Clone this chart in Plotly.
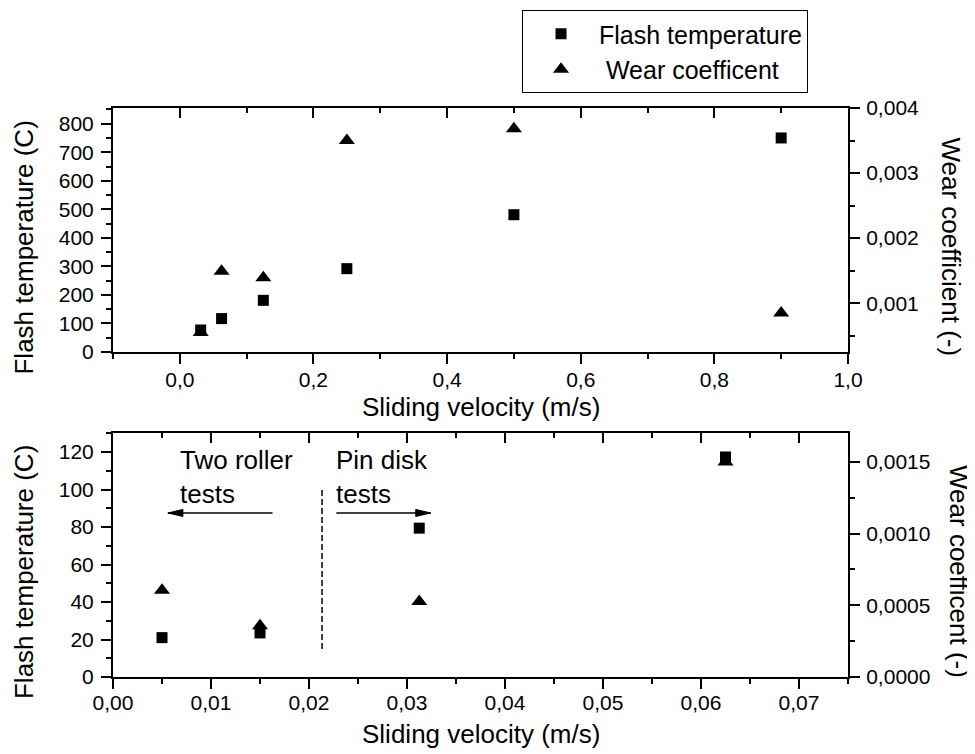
import plotly.graph_objects as go

# ---------------- data ----------------
top_velocity = [0.03125, 0.0625, 0.125, 0.25, 0.5, 0.9]
top_flash = [77, 117, 181, 292, 481, 750]
top_wear = [0.00055, 0.00149, 0.00139, 0.0035, 0.00368, 0.00085]

bot_velocity = [0.005, 0.015, 0.03125, 0.0625]
bot_flash = [21, 23.5, 79.4, 117.4]
bot_wear = [0.000605, 0.000358, 0.000527, 0.0015]

legend_names = ["Flash temperature", "\u00a0Wear coefficent"]
x_title = "Sliding velocity (m/s)"
y_title = "Flash temperature (C)"
y2_title_top = "Wear coefficient (-)"
y2_title_bot = "Wear coefficent (-)"

# annotation positions (data units of the lower panel)
divider_x = 0.02133
divider_y = [15, 100]
arrow_y = 87.5
left_arrow = [0.01628, 0.0056]   # tail, tip
right_arrow = [0.02279, 0.03242]  # tail, tip

FONT = "Liberation Sans, Arial, sans-serif"
BLACK = "black"

fig = go.Figure()

sq = dict(symbol="square", size=11, color=BLACK)
tri = dict(symbol="triangle-up", size=14, color=BLACK)

# top panel
fig.add_trace(go.Scatter(x=top_velocity, y=top_flash, mode="markers", marker=sq,
                         name=legend_names[0], legendgroup="f", xaxis="x", yaxis="y"))
fig.add_trace(go.Scatter(x=top_velocity, y=top_wear, mode="markers", marker=tri,
                         name=legend_names[1], legendgroup="w", xaxis="x", yaxis="y2"))
# bottom panel
fig.add_trace(go.Scatter(x=bot_velocity, y=bot_wear, mode="markers", marker=tri,
                         name=legend_names[1], legendgroup="w", showlegend=False,
                         xaxis="x2", yaxis="y4"))
fig.add_trace(go.Scatter(x=bot_velocity, y=bot_flash, mode="markers", marker=sq,
                         name=legend_names[0], legendgroup="f", showlegend=False,
                         xaxis="x2", yaxis="y3"))
# invisible traces to carry the mirrored top axes
fig.add_trace(go.Scatter(x=top_velocity, y=top_flash, mode="markers", marker=dict(opacity=0),
                         showlegend=False, hoverinfo="skip", xaxis="x3", yaxis="y"))
fig.add_trace(go.Scatter(x=bot_velocity, y=bot_flash, mode="markers", marker=dict(opacity=0),
                         showlegend=False, hoverinfo="skip", xaxis="x4", yaxis="y3"))

TOP_DOM = [0.5712, 1.0]
BOT_DOM = [0.0, 0.4283]

tickfont = dict(family=FONT, size=21, color=BLACK)
common = dict(showline=True, linecolor=BLACK, linewidth=2, showgrid=False, zeroline=False,
              tickcolor=BLACK, tickwidth=2, tickfont=tickfont)


def minor(dt, ticks, length=5):
    return dict(dtick=dt, tick0=0, ticks=ticks, ticklen=length, tickcolor=BLACK,
                tickwidth=2, showgrid=False)


fig.update_layout(
    width=967, height=746,
    margin=dict(l=105, r=127, t=100, b=77, autoexpand=False),
    paper_bgcolor="white", plot_bgcolor="white",
    separators=", ",
    font=dict(family=FONT, color=BLACK),
    showlegend=True,
    legend=dict(x=0.5565, y=1.1722, xanchor="left", yanchor="top",
                bordercolor=BLACK, borderwidth=1, bgcolor="white",
                font=dict(family=FONT, size=25, color=BLACK), itemwidth=66,
                tracegroupgap=0),
    xaxis=dict(common, domain=[0, 1], anchor="y", range=[-0.1, 1.0], dtick=0.2, tick0=0,
               tickformat=".1f", ticks="outside", ticklen=10, minor=minor(0.1, "outside"),
               ticklabelstandoff=-2),
    xaxis3=dict(common, overlaying="x", anchor="y", side="top", range=[-0.1, 1.0],
                dtick=0.2, tick0=0, ticks="inside", ticklen=10, showticklabels=False,
                minor=minor(0.1, "inside")),
    yaxis=dict(common, domain=TOP_DOM, anchor="x", range=[0, 855], dtick=100, tick0=0,
               ticks="outside", ticklen=10, minor=minor(50, "outside"), ticklabelstandoff=3),
    yaxis2=dict(common, overlaying="y", anchor="x", side="right", range=[0.00025, 0.004],
                dtick=0.001, tick0=0, tickformat=".3f", ticks="outside", ticklen=10,
                minor=minor(0.0005, "outside"), ticklabelstandoff=2),
    xaxis2=dict(common, domain=[0, 1], anchor="y3", range=[0, 0.075], dtick=0.01, tick0=0,
                tickformat=".2f", ticks="outside", ticklen=10, minor=minor(0.005, "outside"),
                ticklabelstandoff=-4),
    xaxis4=dict(common, overlaying="x2", anchor="y3", side="top", range=[0, 0.075],
                dtick=0.01, tick0=0, ticks="inside", ticklen=10, showticklabels=False,
                minor=minor(0.005, "inside")),
    yaxis3=dict(common, domain=BOT_DOM, anchor="x2", range=[0, 130], dtick=20, tick0=0,
                ticks="outside", ticklen=10, minor=minor(10, "outside"), ticklabelstandoff=3),
    yaxis4=dict(common, overlaying="y3", anchor="x2", side="right", range=[0, 0.0017],
                dtick=0.0005, tick0=0, tickformat=".4f", ticks="outside", ticklen=10,
                minor=minor(0.00025, "outside"), ticklabelstandoff=2),
)

tfont = dict(family=FONT, size=26, color=BLACK)
ann = [
    dict(text=y_title, x=-0.1211, y=0.7548, textangle=-90),
    dict(text=y_title, x=-0.1211, y=0.1845, textangle=-90),
    dict(text=x_title, x=0.5, y=0.474, textangle=0),
    dict(text=x_title, x=0.5, y=-0.1007, textangle=0),
    dict(text=y2_title_top, x=1.1388, y=0.7566, textangle=90),
    dict(text=y2_title_bot, x=1.151, y=0.1845, textangle=90),
]
for a in ann:
    fig.add_annotation(xref="paper", yref="paper", showarrow=False, font=tfont,
                       xanchor="center", yanchor="middle", **a)

fig.add_annotation(text="Two roller<br>tests", xref="x2", yref="y3", x=0.00665, y=125,
                   xanchor="left", yanchor="top", align="left", showarrow=False, font=tfont)
fig.add_annotation(text="Pin disk<br>tests", xref="x2", yref="y3", x=0.02255, y=125,
                   xanchor="left", yanchor="top", align="left", showarrow=False, font=tfont)

# dashed divider
fig.add_shape(type="line", xref="x2", yref="y3", x0=divider_x, x1=divider_x,
              y0=divider_y[0], y1=divider_y[1], line=dict(color=BLACK, width=1.5, dash="6px,3px"))
# arrows
for tail, tip in (left_arrow, right_arrow):
    fig.add_shape(type="line", xref="x2", yref="y3", x0=tail, x1=tip, y0=arrow_y, y1=arrow_y,
                  line=dict(color=BLACK, width=1.5))
    d = 15 if tip < tail else -15
    fig.add_shape(type="path", xref="x2", yref="y3", xsizemode="pixel", ysizemode="pixel",
                  xanchor=tip, yanchor=arrow_y,
                  path=f"M0,0 L{d},3.5 L{d},-3.5 Z", fillcolor=BLACK,
                  line=dict(color=BLACK, width=1))

fig.write_html("out.html")
